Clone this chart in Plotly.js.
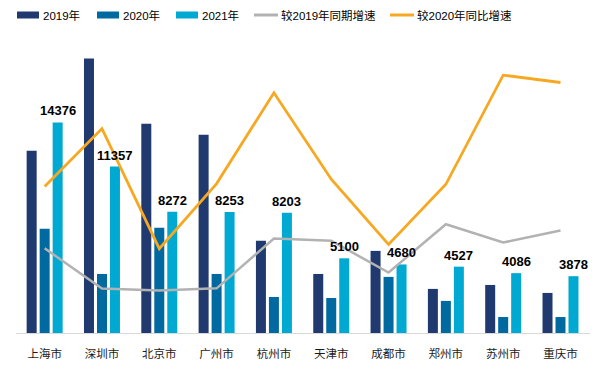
<!DOCTYPE html>
<html><head><meta charset="utf-8">
<script src="https://cdn.plot.ly/plotly-3.0.1.min.js"></script>
<style>html,body{margin:0;padding:0;background:#fff;}#chart{width:608px;height:369px;}</style>
</head><body><div id="chart"></div>
<script>
const cities = ['上海市','深圳市','北京市','广州市','杭州市','天津市','成都市','郑州市','苏州市','重庆市'];
const v2019 = [12440, 18730, 14290, 13535, 6290, 4030, 5605, 3010, 3280, 2735];
const v2020 = [7110, 4030, 7180, 4030, 2460, 2390, 3830, 2190, 1090, 1090];
const v2021 = [14376, 11357, 8272, 8253, 8203, 5100, 4680, 4527, 4086, 3878];
const growthVs2019 = [0.156, -0.394, -0.421, -0.39, 0.29, 0.26, -0.175, 0.485, 0.235, 0.40];
const growthVs2020 = [1.00, 1.79, 0.152, 1.04, 2.28, 1.10, 0.21, 1.03, 2.52, 2.42];

const font = 'Arial, "Liberation Sans", "Noto Sans CJK SC", sans-serif';
const W = 608, H = 369, M = {l:16, r:18, t:40, b:36};
const PW = W - M.l - M.r, PH = H - M.t - M.b;
const px = v => (v - M.l) / PW;      // container px -> paper x
const py = v => (H - M.b - v) / PH;  // container px -> paper y

const traces = [
  {type:'bar', name:'2019年', x:cities, y:v2019, marker:{color:'#203A70'}},
  {type:'bar', name:'2020年', x:cities, y:v2020, marker:{color:'#0069A0'}},
  {type:'bar', name:'2021年', x:cities, y:v2021, marker:{color:'#00A9D2'}},
  {type:'scatter', mode:'lines', name:'较2019年同期增速', x:cities, y:growthVs2019, yaxis:'y2',
   line:{color:'#B2B2B2', width:2.5}},
  {type:'scatter', mode:'lines', name:'较2020年同比增速', x:cities, y:growthVs2020, yaxis:'y2',
   line:{color:'#F7A823', width:2.8}}
];

// value labels above the 2021 bars
const annotations = cities.map((c, i) => ({
  x: c, y: v2021[i], xref:'x', yref:'y', text: String(v2021[i]),
  showarrow:false, xanchor:'center', yanchor:'bottom', xshift:13, yshift:2,
  font:{family:font, size:13, color:'#000', weight:'bold'}
}));

// custom legend (swatch start x, in px) matching the reference layout
const legendX = [17, 97, 176, 254, 390];
const legendY = 15;
const shapes = [];
traces.forEach((t, i) => {
  const x0 = legendX[i];
  if (t.type === 'bar') {
    shapes.push({type:'rect', xref:'paper', yref:'paper', x0:px(x0), x1:px(x0+22),
      y0:py(legendY+3.5), y1:py(legendY-3.5), fillcolor:t.marker.color, line:{width:0}});
  } else {
    shapes.push({type:'line', xref:'paper', yref:'paper', x0:px(x0), x1:px(x0+24),
      y0:py(legendY), y1:py(legendY), line:{color:t.line.color, width:3}});
  }
  annotations.push({xref:'paper', yref:'paper', x:px(x0 + (t.type === 'bar' ? 24 : 25)), y:py(legendY),
    text:t.name, showarrow:false, xanchor:'left', yanchor:'middle',
    font:{family:font, size:11.5, color:'#000'}});
});

const layout = {
  width:W, height:H,
  margin:M,
  paper_bgcolor:'#fff', plot_bgcolor:'#fff',
  font:{family:font, size:11, color:'#000'},
  barmode:'group', bargap:0.32, bargroupgap:0.23,
  showlegend:false,
  annotations: annotations,
  shapes: shapes,
  xaxis:{showline:true, linecolor:'#D9D9D9', linewidth:1, ticks:'', showgrid:false, zeroline:false,
         ticklabelstandoff:10, tickfont:{family:font, size:11.5, color:'#1a1a1a'}},
  yaxis:{range:[0,20000], showgrid:false, zeroline:false, showticklabels:false, showline:false},
  yaxis2:{range:[-1,3], overlaying:'y', side:'right', showgrid:false, zeroline:false, showticklabels:false, showline:false}
};
Plotly.newPlot('chart', traces, layout, {displayModeBar:false, staticPlot:true});
</script></body></html>
